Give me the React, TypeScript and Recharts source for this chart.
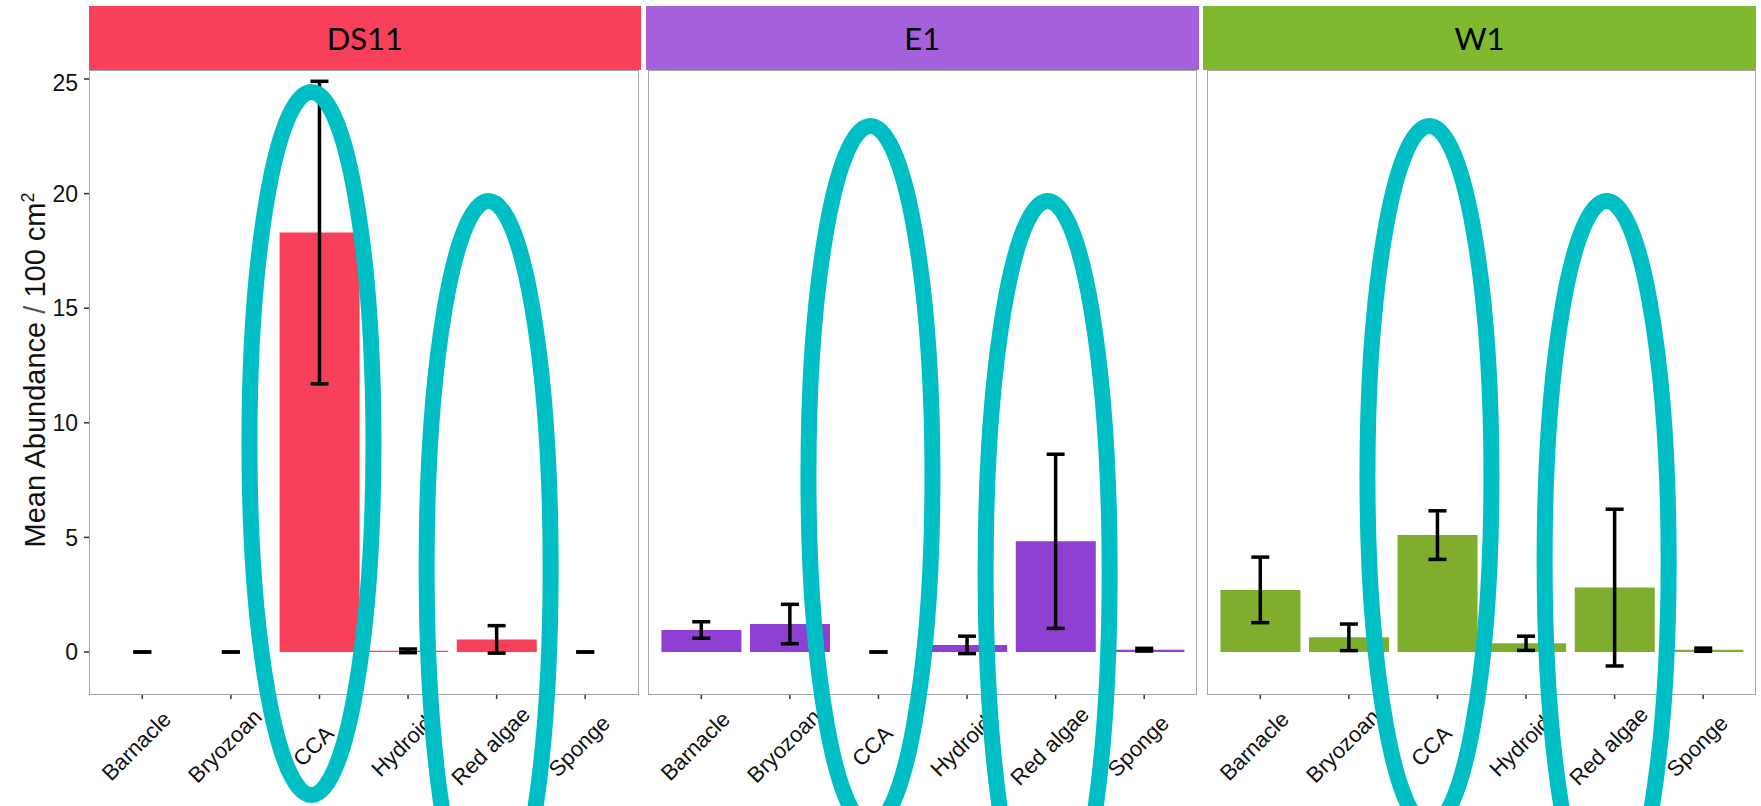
import { ComposedChart, Bar, Scatter, XAxis, YAxis, ErrorBar, ReferenceArea } from 'recharts'

const TAXA = ['Barnacle', 'Bryozoan', 'CCA', 'Hydroid', 'Red algae', 'Sponge']
const SITES = ['DS11', 'E1', 'W1']

// mean abundance per 100 cm2 and its standard error, one array per site
const DS11_MEAN = [0, 0, 18.3, 0.05, 0.55, 0]
const DS11_SE = [0, 0, 6.6, 0.08, 0.6, 0]
const E1_MEAN = [0.96, 1.22, 0, 0.31, 4.83, 0.1]
const E1_SE = [0.36, 0.86, 0, 0.38, 3.8, 0.06]
const W1_MEAN = [2.71, 0.64, 5.1, 0.38, 2.81, 0.1]
const W1_SE = [1.43, 0.58, 1.06, 0.31, 3.42, 0.07]

const Y_TICKS = [0, 5, 10, 15, 20, 25]

// highlight rings: taxon plus the top/bottom of the ring in axis units
const RINGS_DS11 = [
  { taxon: 'CCA', top: 24.43, bottom: -6.24 },
  { taxon: 'Red algae', top: 19.68, bottom: -12.3 },
]
const RINGS_E1 = [
  { taxon: 'CCA', top: 22.95, bottom: -7.6 },
  { taxon: 'Red algae', top: 19.68, bottom: -12.7 },
]
const RINGS_W1 = [
  { taxon: 'CCA', top: 22.95, bottom: -7.6 },
  { taxon: 'Red algae', top: 19.68, bottom: -11.7 },
]

const STRIP_COLORS = ['#F8405A', '#A561DC', '#80B82F']
const BAR_COLORS = ['#F8405A', '#8F3FD1', '#7FAE2E']
const RING_COLOR = '#00BFC4'

// error given as a [low, high] pair so a zero SE still draws its cap
const rows = (mean: number[], se: number[]) =>
  TAXA.map((taxon, i) => ({ taxon, mean: mean[i], err: [se[i], se[i]] }))

const PANELS = [
  { data: rows(DS11_MEAN, DS11_SE), rings: RINGS_DS11 },
  { data: rows(E1_MEAN, E1_SE), rings: RINGS_E1 },
  { data: rows(W1_MEAN, W1_SE), rings: RINGS_W1 },
]

// layout (px)
const PLOT_TOP = 70
const PLOT_H = 625
const PLOT_W = 549.5
const Y_AXIS_W = 89
const PANEL_LEFT = [89, 647.7, 1206.7]
const STRIP_X = [[88.7, 641], [646, 1198.6], [1203, 1756]]
const DOMAIN: [number, number] = [-1.876, 25.393]

function TaxonTick({ x, y, payload }: any) {
  const cx = x - 6
  const cy = y + 45
  return (
    <text
      x={cx}
      y={cy}
      transform={`rotate(-45 ${cx} ${cy})`}
      textAnchor="middle"
      dominantBaseline="central"
      fontSize={22}
      fontFamily="'Liberation Sans', Arial, sans-serif"
      fill="#111"
    >
      {payload.value}
    </text>
  )
}

const Ring = (props: any) => {
  const { x, y, width, height } = props
  return (
    <ellipse
      cx={x + width / 2 - 8}
      cy={y + height / 2}
      rx={width * 0.7}
      ry={height / 2}
      fill="none"
      stroke={RING_COLOR}
      strokeWidth={16}
    />
  )
}

// the error bars hang off an invisible point layer so zero means still get their dash
const NoDot = () => null

function Panel({ idx }: { idx: number }) {
  const { data, rings } = PANELS[idx]
  const first = idx === 0
  const left = first ? 0 : PANEL_LEFT[idx]
  const width = first ? Y_AXIS_W + PLOT_W : PLOT_W
  return (
    <div style={{ position: 'absolute', left, top: PLOT_TOP, width, height: 806 - PLOT_TOP }}>
      <ComposedChart
        width={width}
        height={806 - PLOT_TOP}
        data={data}
        margin={{ top: 0, right: 0, bottom: 0, left: 0 }}
        barCategoryGap="5%"
        style={{ overflow: 'visible' }}
      >
        <XAxis
          dataKey="taxon"
          type="category"
          interval={0}
          padding={{ left: 9, right: 9 }}
          height={806 - PLOT_TOP - PLOT_H}
          axisLine={false}
          tickSize={4}
          tickLine={{ stroke: '#333', strokeWidth: 1.5 }}
          tick={<TaxonTick />}
        />
        <YAxis
          hide={!first}
          type="number"
          width={Y_AXIS_W}
          domain={DOMAIN}
          allowDataOverflow
          ticks={Y_TICKS}
          axisLine={false}
          tickSize={5}
          tickMargin={6}
          tickLine={{ stroke: '#333', strokeWidth: 1.5 }}
          tick={{ fontSize: 23, fill: '#111', fontFamily: "'Liberation Sans', Arial, sans-serif" }}
        />
        <Bar dataKey="mean" fill={BAR_COLORS[idx]} isAnimationActive={false} />
        <Scatter dataKey="mean" shape={<NoDot />} isAnimationActive={false}>
          <ErrorBar dataKey="err" direction="y" width={9} strokeWidth={3.5} stroke="#000" />
        </Scatter>
        {rings.map((r) => (
          <ReferenceArea
            key={r.taxon}
            x1={r.taxon}
            x2={r.taxon}
            y1={r.top}
            y2={r.bottom}
            ifOverflow="visible"
            shape={<Ring />}
            zIndex={2000}
          />
        ))}
      </ComposedChart>
    </div>
  )
}

export default function App() {
  return (
    <div
      style={{
        position: 'absolute',
        left: 0,
        top: 0,
        width: 1761,
        height: 806,
        background: '#fff',
        overflow: 'hidden',
        fontFamily: "'Liberation Sans', Arial, sans-serif",
      }}
    >
      {SITES.map((site, i) => (
        <div key={site}>
          <div
            style={{
              position: 'absolute',
              left: STRIP_X[i][0],
              top: 5.5,
              width: STRIP_X[i][1] - STRIP_X[i][0],
              height: 64,
              background: STRIP_COLORS[i],
              display: 'flex',
              alignItems: 'center',
              justifyContent: 'center',
              fontFamily: 'Lato, sans-serif',
              fontSize: 31,
              color: '#000',
            }}
          >
            {site}
          </div>
          <div
            style={{
              position: 'absolute',
              left: PANEL_LEFT[i],
              top: PLOT_TOP,
              width: PLOT_W,
              height: PLOT_H,
              border: '1.7px solid #A6A6A6',
              boxSizing: 'border-box',
            }}
          />
        </div>
      ))}
      <div
        style={{
          position: 'absolute',
          left: 35,
          top: 370,
          transform: 'translate(-50%, -50%) rotate(-90deg)',
          whiteSpace: 'nowrap',
          fontSize: 29,
          color: '#111',
        }}
      >
        Mean Abundance <span style={{ color: '#555' }}>/</span> 100 cm
        <sup style={{ fontSize: '0.62em' }}>2</sup>
      </div>
      {SITES.map((site, i) => (
        <Panel key={site} idx={i} />
      ))}
    </div>
  )
}
